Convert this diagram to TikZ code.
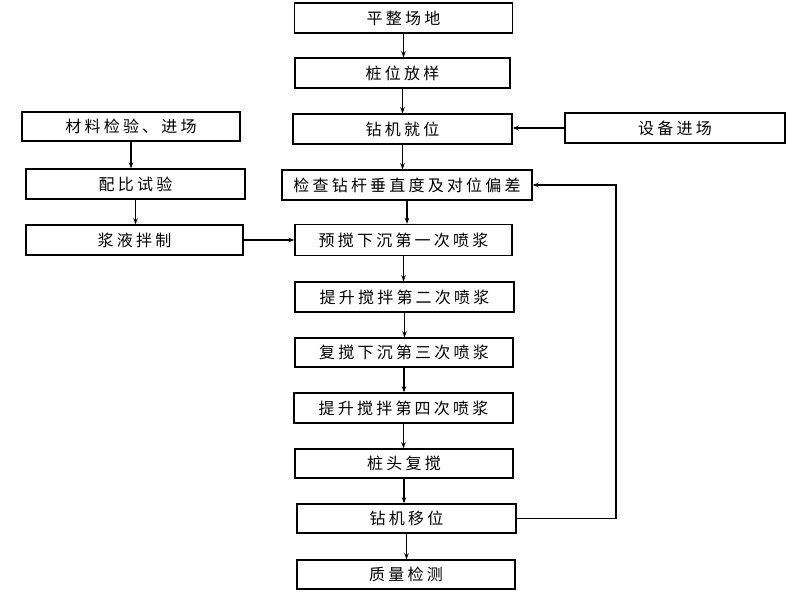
\documentclass[tikz,border=0pt]{standalone}
\usepackage{fontspec}
\newfontfamily\cjk{Noto Sans CJK SC}[LetterSpace=20]
\usetikzlibrary{arrows.meta,positioning}
\begin{document}
\begin{tikzpicture}[x=1pt,y=-1pt,
  box/.style={draw,line width=1.4pt,rectangle,inner sep=0pt,minimum height=30pt,minimum width=218pt,font=\cjk\fontsize{16}{18}\selectfont},
  arr/.style={line width=1.1pt,-{Stealth[length=6pt,width=4.5pt]}},
  lin/.style={line width=1pt}]
\useasboundingbox[fill=white] (0,0) rectangle (800,600);
% main column
\node[box] (n1) at (403.5,18) {平整场地};
\node[box,minimum width=215pt] (n2) at (402.5,73) {桩位放样};
\node[box,minimum width=219pt] (n3) at (402.5,129) {钻机就位};
\node[box,minimum width=250pt] (n4) at (407,185) {检查钻杆垂直度及对位偏差};
\node[box,minimum width=217pt,minimum height=31pt] (n5) at (403.5,240) {预搅下沉第一次喷浆};
\node[box,minimum width=219pt] (n6) at (404.5,297) {提升搅拌第二次喷浆};
\node[box,minimum height=29pt] (n7) at (404,352.5) {复搅下沉第三次喷浆};
\node[box,minimum width=219pt] (n8) at (403.5,408) {提升搅拌第四次喷浆};
\node[box,minimum height=29pt] (n9) at (404,463.5) {桩头复搅};
\node[box,minimum width=219pt,minimum height=29pt] (n10) at (406.5,518.5) {钻机移位};
\node[box,minimum height=29pt] (n11) at (406,574.5) {质量检测};
% left column
\node[box,minimum height=29pt] (l1) at (131,126.5) {材料检验、进场};
\node[box,minimum width=219pt] (l2) at (135.5,184) {配比试验};
\node[box,minimum width=217pt] (l3) at (134.5,240) {浆液拌制};
% right
\node[box,minimum width=220pt] (r1) at (675,128) {设备进场};
% vertical arrows
\foreach \a/\b in {n1/n2,n2/n3,n3/n4,n4/n5,n5/n6,n6/n7,n7/n8,n8/n9,n9/n10,n10/n11}
  \draw[arr] (\a.south) -- (\a.south |- \b.north);
\draw[arr] (l1.south) -- (l1.south |- l2.north);
\draw[arr] (l2.south) -- (l2.south |- l3.north);
% horizontal arrows
\draw[arr] (l3.east) -- (l3.east -| n5.west);
\draw[arr] (r1.west) -- (r1.west -| n3.east);
% feedback loop
\coordinate (fb) at (616,518.5);
\draw[arr] (n10.east) -- (fb) |- (n4.east);
\end{tikzpicture}
\end{document}
